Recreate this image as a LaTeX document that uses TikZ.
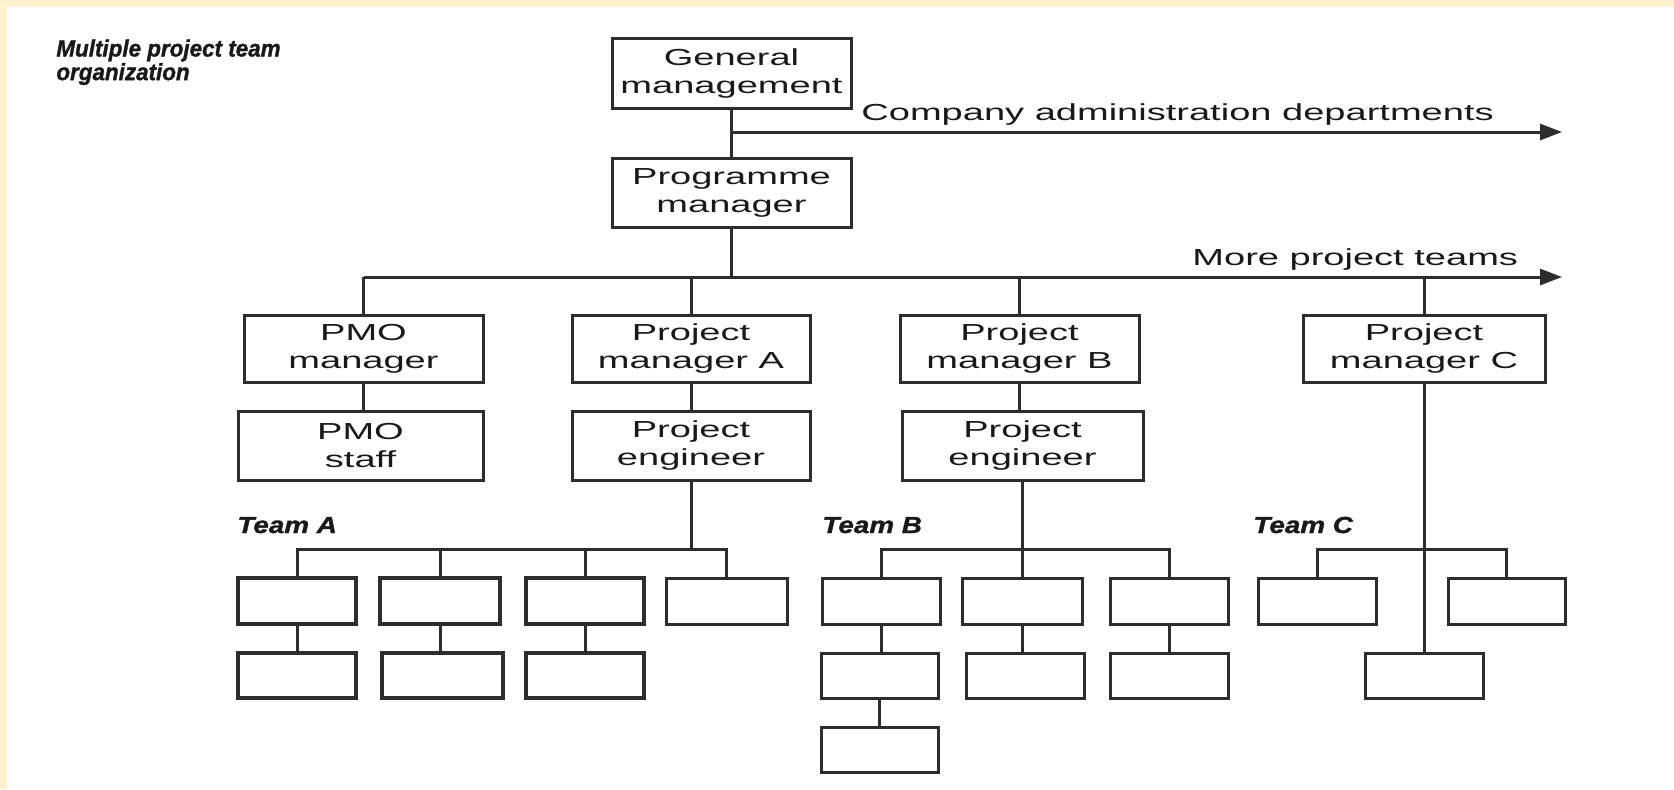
\documentclass[tikz,border=0pt]{standalone}
\usepackage{fontspec}
\usetikzlibrary{arrows.meta}
% wide sans faces used for the labels
\newfontfamily\diagfont[FakeStretch=1.64]{Liberation Sans}
\newfontfamily\teamfont[FakeStretch=1.2, BoldItalicFeatures={FakeBold=1.3}]{Liberation Sans}
\newfontfamily\headfont[FakeStretch=0.95, BoldItalicFeatures={FakeBold=1.3}]{Liberation Sans}
\definecolor{frame}{RGB}{255,241,207}
\definecolor{ink}{RGB}{45,45,45}
\definecolor{textc}{RGB}{25,25,25}

\tikzset{
  orgbox/.style={draw=ink, line width=1.5pt, fill=white, inner sep=0pt,
    align=center, text=textc, font=\diagfont\fontsize{11.6}{14}\selectfont},
  heavybox/.style={orgbox, line width=2.1pt},
  link/.style={draw=ink, line width=1.5pt},
  flow/.style={link, -{Triangle[length=11pt,width=8pt]}},
  plainlabel/.style={inner sep=0pt, text=textc, font=\diagfont\fontsize{11.6}{14}\selectfont},
  teamlabel/.style={inner sep=0pt, text=textc, font=\teamfont\bfseries\itshape\fontsize{11.6}{12.5}\selectfont},
  headlabel/.style={inner sep=0pt, text=textc, font=\headfont\bfseries\itshape\fontsize{11.8}{11.8}\selectfont},
}
% \obox{name}{cx}{cy}{w}{h}{style}{text}
\newcommand{\obox}[7]{\node[#6, minimum width=#4*0.5pt, minimum height=#5*0.5pt] (#1) at (#2,#3) {#7};}

\begin{document}
\begin{tikzpicture}[x=0.5pt, y=-0.5pt]
  % page and cream frame
  \path[use as bounding box] (0,0) rectangle (1674,789);
  \fill[white] (0,0) rectangle (1674,789);
  \fill[frame] (0,0) rectangle (1674,7);
  \fill[frame] (0,0) rectangle (7,789);

  % title
  \node[headlabel, anchor=north west, align=left] (title) at (56,39)
    {Multiple project team\\organization};

  % top of the hierarchy
  \obox{gm}{731.5}{73}{239}{70}{orgbox}{General\\management}
  \obox{pgm}{731.5}{192.5}{239}{69}{orgbox}{Programme\\manager}

  % managers
  \obox{pmo}{363.5}{348.5}{239}{67}{orgbox}{PMO\\manager}
  \obox{pma}{691}{348.5}{238}{67}{orgbox}{Project\\manager A}
  \obox{pmb}{1019.5}{348.5}{239}{67}{orgbox}{Project\\manager B}
  \obox{pmc}{1424}{348.5}{242}{67}{orgbox}{Project\\manager C}

  % second level
  \obox{pmos}{360.5}{445.5}{245}{69}{orgbox}{PMO\\staff}
  \obox{pea}{691}{445.5}{238}{69}{orgbox}{Project\\engineer}
  \obox{peb}{1022.5}{445.5}{241}{69}{orgbox}{Project\\engineer}

  % team A
  \obox{a11}{297}{601}{118}{46}{heavybox}{}
  \obox{a12}{440}{601}{120}{46}{heavybox}{}
  \obox{a13}{585}{601}{118}{46}{heavybox}{}
  \obox{a14}{726.5}{601}{121}{46}{orgbox}{}
  \obox{a21}{297}{675.5}{118}{45}{heavybox}{}
  \obox{a22}{442.5}{675.5}{121}{45}{heavybox}{}
  \obox{a23}{585}{675.5}{118}{45}{heavybox}{}

  % team B
  \obox{b11}{881}{601}{118}{46}{orgbox}{}
  \obox{b12}{1022.5}{601}{120}{46}{orgbox}{}
  \obox{b13}{1169}{601}{118}{46}{orgbox}{}
  \obox{b21}{879.5}{675.5}{117}{45}{orgbox}{}
  \obox{b22}{1025}{675.5}{118}{45}{orgbox}{}
  \obox{b23}{1169}{675.5}{118}{45}{orgbox}{}
  \obox{b31}{879.5}{749.5}{117}{45}{orgbox}{}

  % team C
  \obox{c11}{1317}{601}{118}{46}{orgbox}{}
  \obox{c12}{1506.5}{601}{117}{46}{orgbox}{}
  \obox{c21}{1424}{675.5}{118}{45}{orgbox}{}

  % team labels
  \node[teamlabel, anchor=base west] (teamA) at (237,533) {Team A};
  \node[teamlabel, anchor=base west] (teamB) at (822,533) {Team B};
  \node[teamlabel, anchor=base west] (teamC) at (1253,533) {Team C};

  % rails and arrow ends
  \coordinate (admin) at (731.5,132);
  \coordinate (admintip) at (1562,132);
  \coordinate (rail) at (731.5,277);
  \coordinate (railtip) at (1562,277);
  \coordinate (busA) at (0,549);
  \coordinate (busB) at (0,549);
  \coordinate (busC) at (0,549);

  % general management line and departments arrow
  \draw[link] (gm.south) -- (pgm.north);
  \draw[flow] (admin) -- (admintip);
  \node[plainlabel, anchor=base west] (adminlbl) at (861,120)
    {Company administration departments};

  % programme rail
  \draw[link] (pgm.south) -- (rail);
  \draw[flow] (pmo.north |- rail) -- (railtip);
  \node[plainlabel, anchor=base west] (morelbl) at (1192,265) {More project teams};
  \foreach \n in {pmo,pma,pmb,pmc}
    \draw[link] (\n.north) -- (\n.north |- rail);

  % manager to second level
  \draw[link] (pmo.south) -- (pmo.south |- pmos.north);
  \draw[link] (pma.south) -- (pea.north);
  \draw[link] (pmb.south) -- (pmb.south |- peb.north);

  % team A tree
  \draw[link] (pea.south) -- (pea.south |- busA);
  \draw[link] (a11.north) -- (a11.north |- busA) -- (a14.north |- busA) -- (a14.north);
  \foreach \n in {a12,a13}
    \draw[link] (\n.north) -- (\n.north |- busA);
  \draw[link] (a11.south) -- (a11.south |- a21.north);
  \draw[link] (a12.south) -- (a12.south |- a22.north);
  \draw[link] (a13.south) -- (a13.south |- a23.north);

  % team B tree
  \draw[link] (peb.south) -- (b12.north);
  \draw[link] (b11.north) -- (b11.north |- busB) -- (b13.north |- busB) -- (b13.north);
  \draw[link] (b11.south) -- (b11.south |- b21.north);
  \draw[link] (b21.south) -- (b21.south |- b31.north);
  \draw[link] (b12.south) -- (b12.south |- b22.north);
  \draw[link] (b13.south) -- (b13.south |- b23.north);

  % team C tree
  \draw[link] (pmc.south) -- (c21.north);
  \draw[link] (c11.north) -- (c11.north |- busC) -- (c12.north |- busC) -- (c12.north);
\end{tikzpicture}
\end{document}
